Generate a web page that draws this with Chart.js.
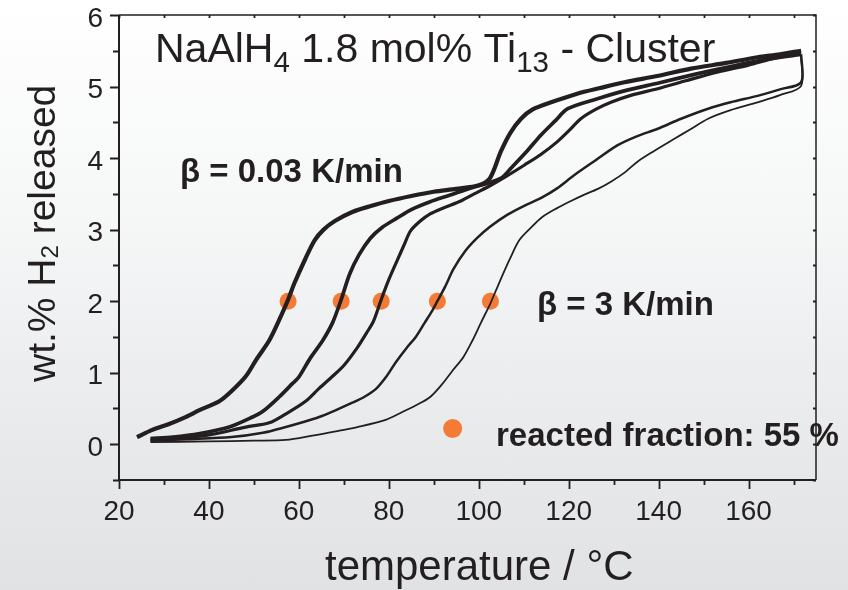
<!DOCTYPE html>
<html>
<head>
<meta charset="utf-8">
<script src="https://cdn.jsdelivr.net/npm/chart.js@4.4.1/dist/chart.umd.min.js"></script>
<style>
  html, body { margin: 0; padding: 0; }
  body {
    width: 848px; height: 590px; overflow: hidden;
    background: linear-gradient(to bottom, #ffffff 0%, #f6f7f7 35%, #eaebed 70%, #e1e2e4 100%);
  }
  canvas { display: block; }
</style>
</head>
<body>
<canvas id="desorption" width="848" height="590"></canvas>
<script>
// heating runs, slowest (0.03 K/min) first, fastest (3 K/min) last
const run1T = [24, 27.4, 31, 34.8, 38, 42.3, 45, 48.2, 50.5, 53.4, 55.5, 57.6, 59, 61.5, 63.5, 65.5, 68, 72, 76, 80, 85, 90, 95, 100, 102.5, 104.9, 107, 109.4, 112, 116.1, 121.9, 127, 132.4, 140, 147.2, 155, 162, 167, 171.7];
const run1W = [0.1, 0.2, 0.28, 0.38, 0.48, 0.6, 0.74, 0.95, 1.18, 1.45, 1.72, 2.02, 2.25, 2.6, 2.85, 3.0, 3.12, 3.25, 3.33, 3.4, 3.47, 3.53, 3.57, 3.62, 3.72, 4.09, 4.35, 4.55, 4.68, 4.78, 4.9, 4.98, 5.06, 5.15, 5.25, 5.33, 5.41, 5.45, 5.5];

const run2T = [27, 32, 38, 44.5, 49.7, 52, 55.6, 58.6, 60, 62.5, 65.3, 67.5, 69.4, 71.3, 73.4, 75.9, 78.5, 81.8, 85, 89.2, 93.5, 98.1, 102, 105, 107.2, 110.5, 113.8, 117, 119.8, 126.4, 133, 140, 148, 156, 164, 171.7];
const run2W = [0.08, 0.1, 0.15, 0.24, 0.38, 0.46, 0.66, 0.85, 0.94, 1.2, 1.45, 1.7, 2.02, 2.38, 2.65, 2.88, 3.03, 3.16, 3.28, 3.39, 3.48, 3.58, 3.65, 3.72, 3.86, 4.08, 4.32, 4.52, 4.69, 4.83, 4.95, 5.05, 5.17, 5.28, 5.38, 5.45];

const run3T = [27, 33, 40, 48.2, 53.4, 57, 61.5, 64.5, 67.5, 70, 73, 75, 76.6, 78.3, 80, 81.8, 83.5, 84.8, 87, 89.2, 92, 96, 99, 102.7, 106, 110.1, 113.8, 117.5, 120, 122.7, 126, 129.4, 134, 139.8, 146, 153, 160, 166, 171.7];
const run3W = [0.06, 0.08, 0.13, 0.24, 0.3, 0.42, 0.6, 0.78, 0.95, 1.1, 1.35, 1.55, 1.72, 2.02, 2.3, 2.56, 2.8, 2.98, 3.12, 3.22, 3.3, 3.4, 3.5, 3.62, 3.74, 3.9, 4.05, 4.23, 4.38, 4.55, 4.68, 4.78, 4.88, 4.97, 5.08, 5.2, 5.3, 5.4, 5.46];

const run4T = [27, 35, 45, 52, 57.1, 61, 64.5, 68, 71.9, 74.5, 77.1, 79.5, 81.6, 84, 86, 88, 89.5, 90.8, 92.5, 94.4, 97, 99.6, 102.5, 106.4, 110, 113.8, 117.5, 121.2, 126, 130.9, 135, 139.8, 145, 151, 156, 162, 167, 171.7, 171.7];
const run4W = [0.05, 0.07, 0.1, 0.16, 0.24, 0.31, 0.38, 0.47, 0.58, 0.66, 0.77, 0.95, 1.15, 1.35, 1.5, 1.7, 1.85, 2.0, 2.2, 2.45, 2.7, 2.88, 3.04, 3.21, 3.33, 3.44, 3.58, 3.76, 3.97, 4.18, 4.3, 4.41, 4.55, 4.69, 4.78, 4.87, 4.96, 5.06, 5.45];

const run5T = [27, 40, 50, 57.1, 63, 68.2, 73, 79.3, 83, 86.8, 89.2, 92, 94.2, 96.6, 98.6, 100.5, 102.6, 104.5, 107, 109, 111.5, 114, 117.4, 120.5, 123.5, 126.5, 129.4, 132.5, 135.3, 139, 143.5, 147, 151, 156, 162, 167, 171.7, 171.7];
const run5W = [0.03, 0.04, 0.05, 0.06, 0.12, 0.18, 0.24, 0.34, 0.45, 0.57, 0.66, 0.85, 1.03, 1.22, 1.45, 1.7, 1.97, 2.25, 2.6, 2.85, 3.02, 3.17, 3.3, 3.4, 3.49, 3.57, 3.67, 3.8, 3.95, 4.1, 4.27, 4.4, 4.55, 4.67, 4.78, 4.88, 5.01, 5.42];

// 55 % reacted fraction on each run
const halfT = [57.6, 69.4, 78.3, 90.8, 102.6];
const halfW = [2, 2, 2, 2, 2];

// key marker next to "reacted fraction"
const keyT = [94.2];
const keyW = [0.22];

const xLabels = [20, 40, 60, 80, 100, 120, 140, 160];
const xTicks = [20, 30, 40, 50, 60, 70, 80, 90, 100, 110, 120, 130, 140, 150, 160, 170];
const yLabels = [0, 1, 2, 3, 4, 5, 6];
const yTicks = [-0.5, 0, 0.5, 1, 1.5, 2, 2.5, 3, 3.5, 4, 4.5, 5, 5.5, 6];

const INK = '#231f20';
const ORANGE = '#f47b36';
const FONT = '"Liberation Sans", Arial, Helvetica, sans-serif';

function pts(xs, ys) {
  return xs.map((x, i) => ({ x: x, y: ys[i] }));
}

function run(xs, ys, width) {
  return {
    data: pts(xs, ys),
    borderColor: INK,
    borderWidth: width,
    pointRadius: 0,
    tension: 0.3,
    fill: false
  };
}

// text with subscripts: parts = [[text, isSub], ...]
function richText(ctx, parts, x, y, size, subSize, subDrop) {
  let cx = x;
  parts.forEach(([txt, sub]) => {
    ctx.font = (sub ? subSize : size) + 'px ' + FONT;
    ctx.fillText(txt, cx, sub ? y + subDrop : y);
    cx += ctx.measureText(txt).width;
  });
}

// fixed axis boxes, no extra room for the end labels
function fixBox(w, h) {
  return s => {
    if (w) s.width = w;
    if (h) s.height = h;
    s.paddingTop = 0;
    s.paddingBottom = 0;
    s.paddingLeft = 0;
    s.paddingRight = 0;
  };
}

const decor = {
  id: 'decor',
  afterDraw(chart) {
    const { ctx, chartArea: a, scales } = chart;
    const sx = scales.x, sy = scales.y;
    ctx.save();

    // frame
    ctx.strokeStyle = INK;
    ctx.lineWidth = 2;
    ctx.beginPath();
    ctx.moveTo(a.left, a.top);
    ctx.lineTo(a.left, a.bottom);
    ctx.lineTo(a.right, a.bottom);
    ctx.stroke();
    ctx.lineWidth = 1.5;
    ctx.beginPath();
    ctx.moveTo(a.left, a.top);
    ctx.lineTo(a.right, a.top);
    ctx.lineTo(a.right, a.bottom);
    ctx.stroke();

    // tick marks
    ctx.lineWidth = 1.8;
    ctx.beginPath();
    xTicks.forEach(v => {
      const px = Math.round(sx.getPixelForValue(v)) + 0.5;
      const len = xLabels.includes(v) ? 9 : 5;
      ctx.moveTo(px, a.bottom);
      ctx.lineTo(px, a.bottom + len);
      ctx.moveTo(px, a.top);
      ctx.lineTo(px, a.top + 3);
    });
    yTicks.forEach(v => {
      const py = Math.round(sy.getPixelForValue(v)) + 0.5;
      const len = yLabels.includes(v) ? 9 : 6;
      ctx.moveTo(a.left, py);
      ctx.lineTo(a.left - len, py);
      ctx.moveTo(a.right, py);
      ctx.lineTo(a.right - 3, py);
    });
    ctx.stroke();

    ctx.fillStyle = INK;
    ctx.textBaseline = 'alphabetic';
    ctx.textAlign = 'left';

    // heading
    richText(ctx, [['NaAlH', false], ['4', true], [' 1.8 mol% Ti', false], ['13', true], [' - Cluster', false]],
      155, 62, 41, 29.5, 10);

    // axis titles
    ctx.save();
    ctx.translate(55, 382);
    ctx.rotate(-Math.PI / 2);
    richText(ctx, [['wt.% H', false], ['2', true], [' released', false]], 0, 0, 39, 24, 3);
    ctx.restore();

    ctx.font = '42px ' + FONT;
    ctx.fillText('temperature / \u00b0C', 325, 580);

    // annotations
    ctx.font = 'bold 33px ' + FONT;
    ctx.fillText('\u03b2 = 0.03 K/min', 180, 182);
    ctx.fillText('\u03b2 = 3 K/min', 537, 315);
    ctx.fillText('reacted fraction: 55 %', 496, 446);

    ctx.restore();
  }
};

new Chart(document.getElementById('desorption'), {
  type: 'line',
  data: {
    datasets: [
      run(run1T, run1W, 4.2),
      run(run2T, run2W, 3.7),
      run(run3T, run3W, 3.2),
      run(run4T, run4W, 2.5),
      run(run5T, run5W, 1.8),
      {
        data: pts(halfT, halfW),
        showLine: false,
        pointRadius: 8.5,
        pointBorderWidth: 0,
        pointBackgroundColor: ORANGE
      },
      {
        data: pts(keyT, keyW),
        showLine: false,
        pointRadius: 9.5,
        pointBorderWidth: 0,
        pointBackgroundColor: ORANGE
      }
    ]
  },
  options: {
    responsive: false,
    animation: false,
    layout: { padding: { top: 15, right: 32, left: 0, bottom: 0 } },
    plugins: {
      legend: { display: false },
      tooltip: { enabled: false }
    },
    scales: {
      x: {
        type: 'linear',
        min: 20,
        max: 175,
        afterFit: fixBox(0, 110),
        grid: { display: false, drawTicks: false },
        border: { display: false },
        ticks: {
          stepSize: 10,
          autoSkip: false,
          maxRotation: 0,
          padding: 15,
          color: INK,
          font: { size: 28, family: FONT },
          callback: v => xLabels.includes(v) ? String(v) : ''
        }
      },
      y: {
        type: 'linear',
        min: -0.5,
        max: 6,
        afterFit: fixBox(119, 0),
        grid: { display: false, drawTicks: false },
        border: { display: false },
        ticks: {
          stepSize: 0.5,
          autoSkip: false,
          padding: 16,
          labelOffset: 4,
          color: INK,
          font: { size: 28, family: FONT },
          callback: v => yLabels.includes(v) ? String(v) : ''
        }
      }
    }
  },
  plugins: [decor]
});
</script>
</body>
</html>
